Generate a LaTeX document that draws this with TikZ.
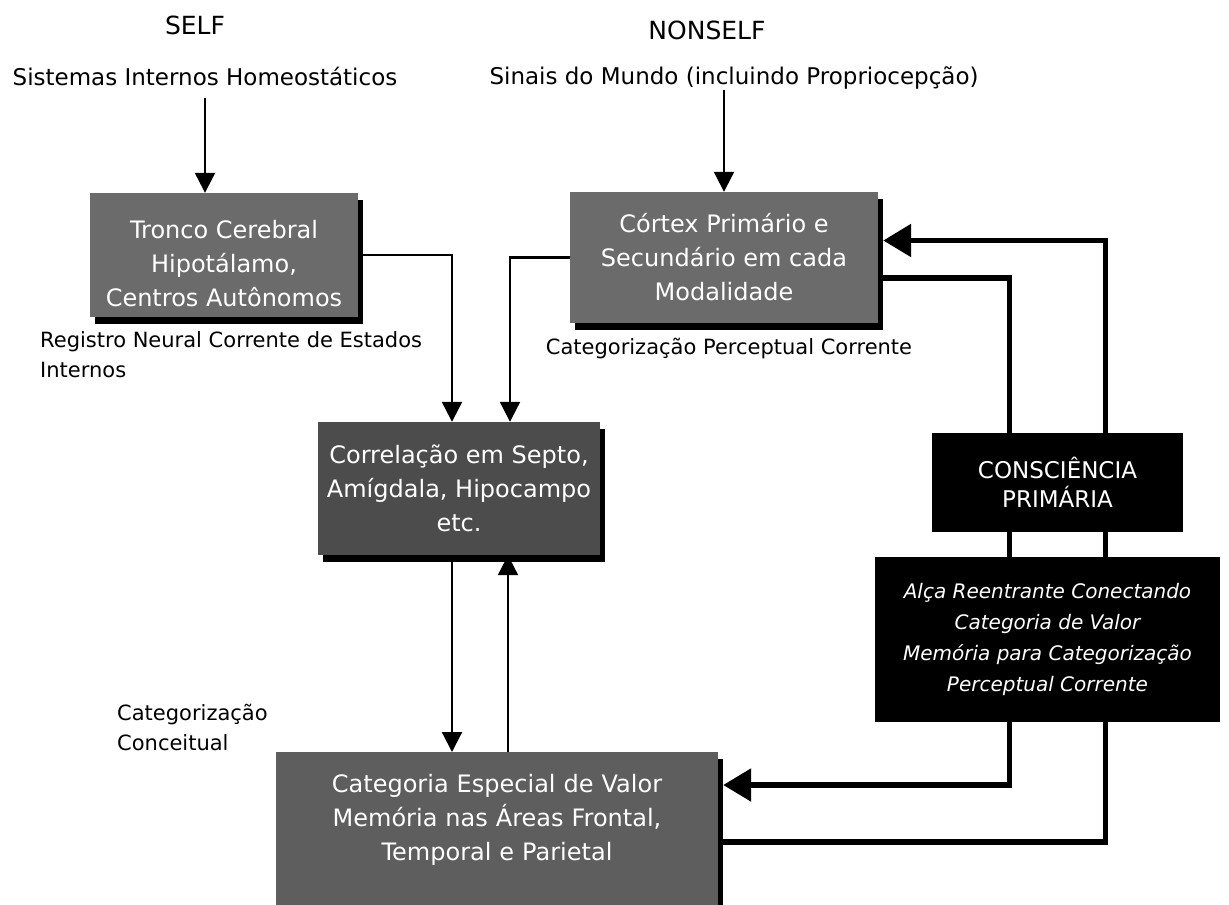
\documentclass[tikz,border=0pt]{standalone}
\usepackage{fontspec}
\setmainfont{DejaVu Sans}
\usetikzlibrary{arrows.meta,shadows}

\begin{document}
\begin{tikzpicture}[x=1pt,y=-1pt]
\tikzset{ >={Triangle[length=20pt,width=20pt]},
  head/.style={font=\fontsize{25}{30}\selectfont, inner sep=0pt},
  txt/.style={font=\fontsize{23}{30}\selectfont, inner sep=0pt},
  small/.style={font=\fontsize{21}{30}\selectfont, inner sep=0pt},
  cellbox/.style={fill=black!58, text=white, align=center, inner sep=0pt,
    font=\fontsize{24}{34}\selectfont,
    drop shadow={shadow xshift=5pt, shadow yshift=-7pt, fill=black, opacity=1}},
  darkbox/.style={fill=black, text=white, align=center, inner sep=0pt},
  wire/.style={line width=2.2pt},
  loopwire/.style={line width=5.5pt},
  bigtip/.style={-{Triangle[length=28pt,width=32pt]}},
}

\clip (0,0) rectangle (1229,905);

% headings
\node [head] (self)    at (195,25) {SELF};
\node [head] (nonself) at (707,30) {NONSELF};
\node [txt]  (sis)     at (205,76) {Sistemas Internos Homeostáticos};
\node [txt]  (sinais)  at (734,78) {Sinais do Mundo (incluindo Propriocepção)};

% boxes
\node [cellbox, minimum width=268pt, minimum height=124pt, text height=103pt] (tronco) at (224,255)
  {Tronco Cerebral\\Hipotálamo,\\Centros Autônomos};
\node [cellbox, minimum width=308pt, minimum height=131pt] (cortex) at (724,257.5)
  {Córtex Primário e\\Secundário em cada\\Modalidade};
\node [cellbox, fill=black!70, minimum width=282pt, minimum height=133pt] (correl) at (459,488.5)
  {Correlação em Septo,\\Amígdala, Hipocampo\\etc.};
\node [cellbox, fill=black!63, anchor=north, text width=442pt, inner ysep=22pt, text depth=110pt] (categ) at (497,752)
  {Categoria Especial de Valor\\Memória nas Áreas Frontal,\\Temporal e Parietal};

\node [darkbox, minimum width=251pt, minimum height=99pt, font=\fontsize{23}{29}\selectfont] (cons) at (1057.5,482.5)
  {CONSCIÊNCIA\\PRIMÁRIA};
\node [darkbox, minimum width=345pt, minimum height=165pt, font=\fontsize{20}{31}\selectfont\itshape] (alca) at (1047.5,639.5)
  {Alça Reentrante Conectando\\Categoria de Valor\\Memória para Categorização\\Perceptual Corrente};

% captions
\node [small, anchor=north west, align=left] (registro) at (40,331) {Registro Neural Corrente de Estados\\Internos};
\node [small] (percep) at (729,349) {Categorização Perceptual Corrente};
\node [small, anchor=west, align=left] (concei) at (117,727) {Categorização\\Conceitual};

% thin connectors
\draw [wire, ->] ([yshift=-12pt]sis.south) -- (sis.south |- tronco.north);
\draw [wire, ->] (sinais.south -| cortex.north) -- (cortex.north);
\draw [wire, ->] (tronco.east) -| ([xshift=-7pt]correl.north);
\draw [wire, ->] (cortex.west) -| ([xshift=51pt]correl.north);
\draw [wire, ->] ([xshift=-7pt]correl.south) -- ([xshift=-7pt]correl.south |- categ.north);
\draw [wire, ->] ([xshift=49pt]correl.south |- categ.north) -- ([xshift=49pt]correl.south);

% reentrant loop
\draw [loopwire, bigtip] ([xshift=48pt]cons.north) |- ([xshift=5pt,yshift=17pt]cortex.east);
\draw [loopwire] ([xshift=-48pt]cons.north) |- ([yshift=-20.5pt]cortex.east);
\draw [loopwire] ([xshift=-48pt]cons.south) -- ([xshift=-48pt]cons.south |- alca.north);
\draw [loopwire] ([xshift=48pt]cons.south) -- ([xshift=48pt]cons.south |- alca.north);
\draw [loopwire, bigtip] ([xshift=-48pt]cons.south |- alca.south) |- ([xshift=5pt,yshift=-33pt]categ.north east);
\draw [loopwire] ([xshift=48pt]cons.south |- alca.south) |- ([yshift=-90pt]categ.north east);

\end{tikzpicture}
\end{document}
